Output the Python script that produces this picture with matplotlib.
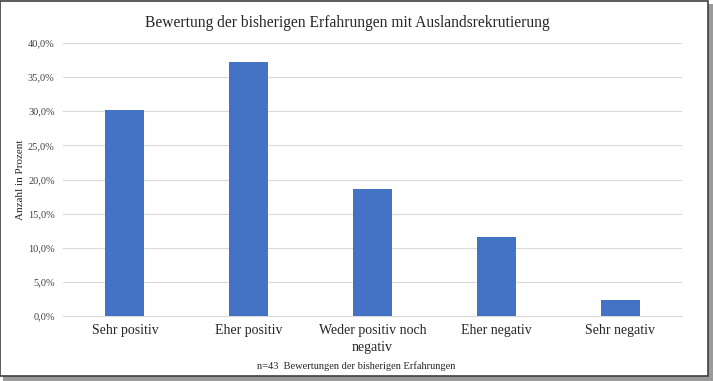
import matplotlib
matplotlib.use("Agg")
import matplotlib.pyplot as plt
from matplotlib.patches import Rectangle
from matplotlib.ticker import FuncFormatter, MultipleLocator

categories = ["Sehr positiv", "Eher positiv", "Weder positiv noch\nnegativ", "Eher negativ", "Sehr negativ"]
values = [30.2, 37.2, 18.6, 11.6, 2.3]

plt.rcParams['font.family'] = ['Liberation Serif', 'DejaVu Serif']

fig = plt.figure(figsize=(7.13, 3.81), dpi=100)
ax = fig.add_axes([0.0884, 0.1706, 0.868, 0.7165])

x = range(len(categories))
ax.bar(x, values, width=0.315, color="#4472C4", zorder=3)
ax.set_xlim(-0.5, len(categories) - 0.5)
ax.set_ylim(0, 40)
ax.yaxis.set_major_locator(MultipleLocator(5))
ax.yaxis.set_major_formatter(FuncFormatter(lambda v, p: f"{v:.1f}%".replace(".", ",")))
ax.set_xticks(list(x))
ax.set_xticklabels(categories, fontsize=10, color="#262626", linespacing=1.35)
ax.tick_params(axis='y', labelsize=7.5, colors="#404040", length=0, pad=6)
ax.tick_params(axis='x', length=0, pad=6)
ax.grid(axis='y', color="#D9D9D9", linewidth=0.8, zorder=0)
for s in ["top", "right", "left"]:
    ax.spines[s].set_visible(False)
ax.spines["bottom"].set_color("#D9D9D9")
ax.spines["bottom"].set_linewidth(0.8)

ax.set_ylabel("Anzahl in Prozent", fontsize=8, color="#262626")
ax.yaxis.set_label_coords(-0.062, 0.5)
ax.set_xlabel("n=43  Bewertungen der bisherigen Erfahrungen", fontsize=7.5, color="#262626")
ax.xaxis.set_label_coords(0.473, -0.165)
fig.text(0.487, 0.94, "Bewertung der bisherigen Erfahrungen mit Auslandsrekrutierung",
         ha="center", va="center", fontsize=11.2, color="#262626")

# frame with shadow
fig.patches.append(Rectangle((0.004, 0.0), 0.996, 0.99, transform=fig.transFigure,
                             facecolor="#9a9a9a", edgecolor="none", zorder=-2))
fig.patches.append(Rectangle((0.0, 0.012), 0.993, 0.985, transform=fig.transFigure,
                             facecolor="white", edgecolor="#404040", linewidth=1.2, zorder=-1))

fig.savefig("out.png", dpi=100)
